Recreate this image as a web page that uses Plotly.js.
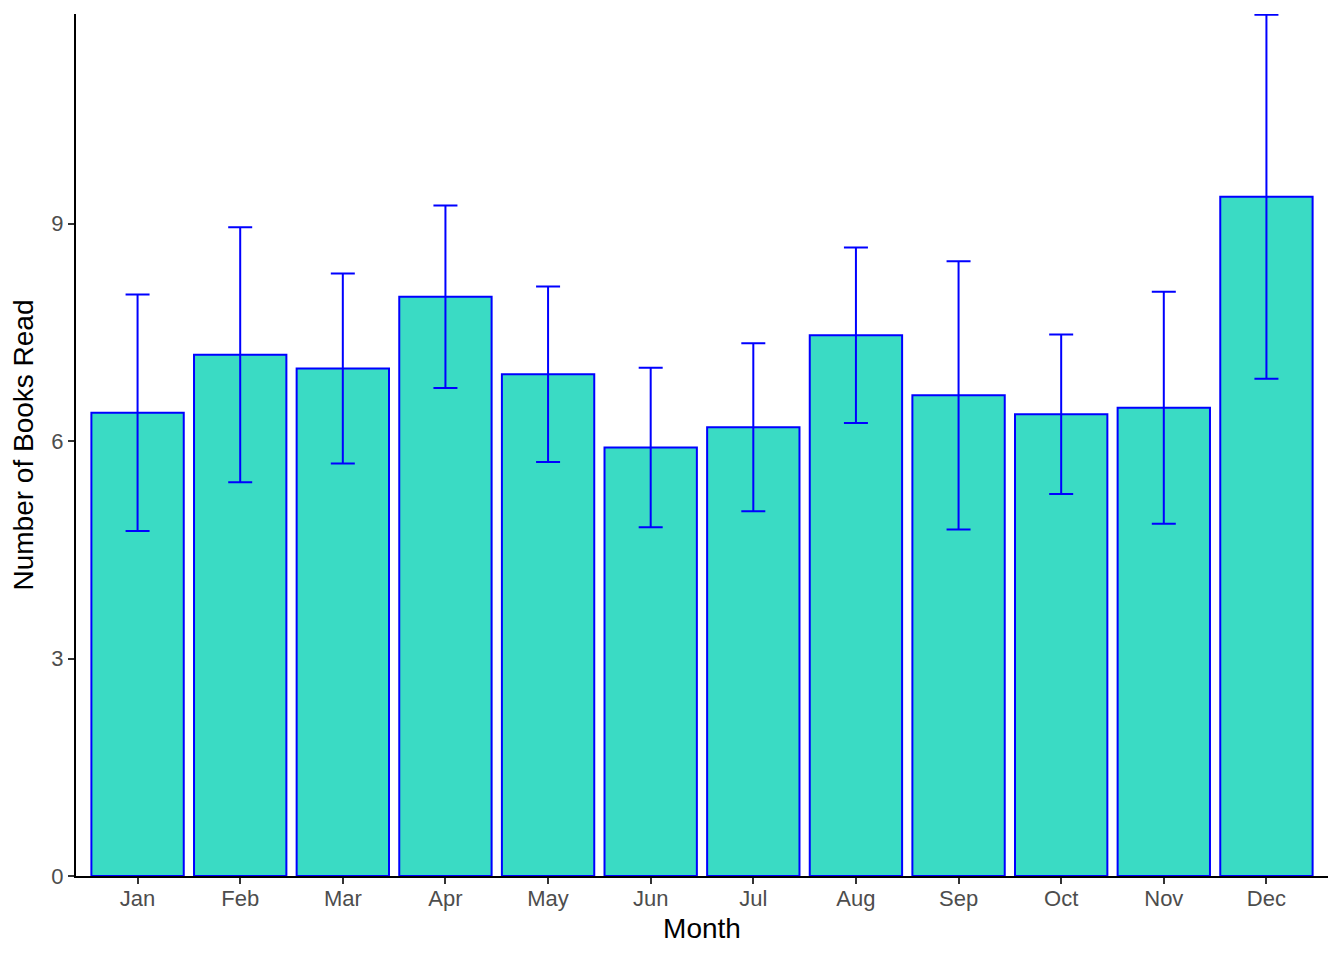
<!DOCTYPE html>
<html>
<head>
<meta charset="utf-8">
<script src="https://cdn.plot.ly/plotly-3.0.1.min.js"></script>
<style>html,body{margin:0;padding:0;background:#fff;}#chart{width:1344px;height:960px;}</style>
</head>
<body>
<div id="chart"></div>
<script>
const months = ["Jan","Feb","Mar","Apr","May","Jun","Jul","Aug","Sep","Oct","Nov","Dec"];
const booksRead = [6.39, 7.19, 7.00, 7.99, 6.92, 5.91, 6.19, 7.46, 6.63, 6.37, 6.46, 9.37];
const errorSize = [1.63, 1.76, 1.31, 1.26, 1.21, 1.10, 1.16, 1.21, 1.85, 1.10, 1.60, 2.51];
const yTicks = [0, 3, 6, 9];

const trace = {
  type: "bar",
  x: months,
  y: booksRead,
  width: 0.9,
  cliponaxis: false,
  marker: {color: "#3ADBC4", line: {color: "#0000FF", width: 2}},
  error_y: {type: "data", array: errorSize, visible: true, color: "#0000FF", thickness: 2, width: 12},
  hoverinfo: "x+y"
};

const layout = {
  width: 1344, height: 960,
  margin: {l: 76, r: 16, t: 14, b: 84},
  paper_bgcolor: "#fff", plot_bgcolor: "#fff",
  showlegend: false,
  bargap: 0.1,
  font: {family: "Liberation Sans, Arial, sans-serif"},
  xaxis: {
    type: "category",
    range: [-0.6, 11.6],
    showgrid: false, zeroline: false,
    showline: true, linecolor: "#000", linewidth: 2,
    ticks: "outside", ticklen: 6, tickwidth: 2, tickcolor: "#333",
    ticklabelstandoff: -4,
    tickfont: {size: 22, color: "#4d4d4d"},
    title: {text: "Month", font: {size: 28, color: "#000"}, standoff: 8}
  },
  yaxis: {
    range: [0, 11.89],
    tickvals: yTicks, ticktext: yTicks.map(String),
    showgrid: false, zeroline: false,
    showline: true, linecolor: "#000", linewidth: 2,
    ticks: "outside", ticklen: 6, tickwidth: 2, tickcolor: "#333",
    tickfont: {size: 22, color: "#4d4d4d"},
    title: {text: "Number of Books Read", font: {size: 28, color: "#000"}, standoff: 10}
  }
};

Plotly.newPlot("chart", [trace], layout, {displayModeBar: false, staticPlot: true});
</script>
</body>
</html>
